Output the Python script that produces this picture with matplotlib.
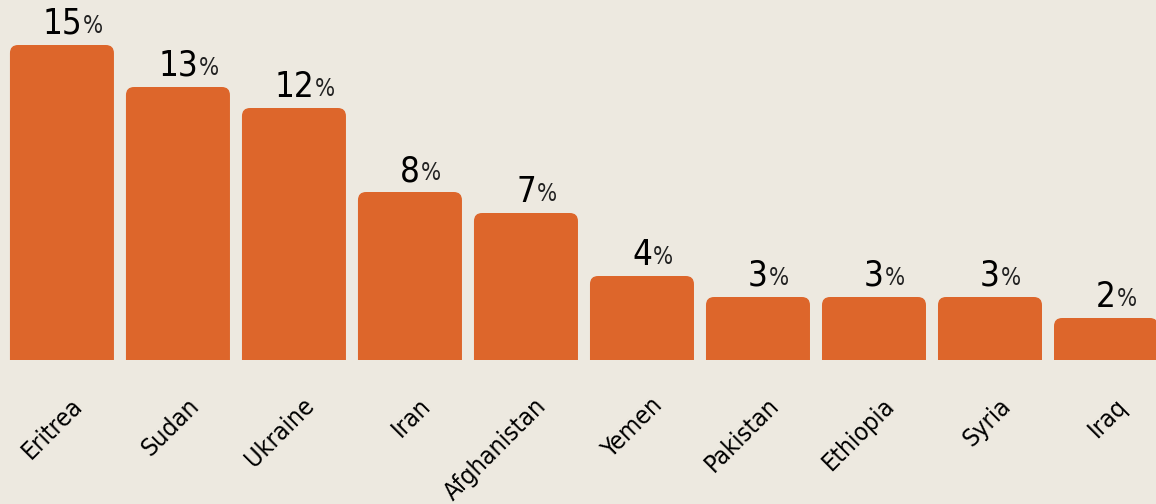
import matplotlib
matplotlib.use('Agg')
import matplotlib.pyplot as plt
import matplotlib.transforms as mtransforms
from matplotlib.patches import FancyBboxPatch
from matplotlib import font_manager


countries = ['Eritrea', 'Sudan', 'Ukraine', 'Iran', 'Afghanistan',
             'Yemen', 'Pakistan', 'Ethiopia', 'Syria', 'Iraq']
shares = [15, 13, 12, 8, 7, 4, 3, 3, 3, 2]

BAR_COLOR = '#DD662B'
BG_COLOR = '#EDE9E0'

names = {f.name for f in font_manager.fontManager.ttflist}
if 'Liberation Sans Narrow' in names:
    FONT = dict(family='Liberation Sans Narrow')
else:
    FONT = dict(family='DejaVu Sans', stretch='condensed')

fig = plt.figure(figsize=(11.56, 5.04), dpi=100, facecolor=BG_COLOR)
ax = fig.add_axes([0, 144 / 504, 1, 360 / 504])
ax.set_facecolor(BG_COLOR)
ax.set_xlim(-0.534, 9.431)
ax.set_ylim(0, 360 / 21)
ax.axis('off')

width = 104 / 116
# pixel aspect: data units of y per data unit of x, for circular corners
aspect = (1 / 21) / (1 / 116)
for i, val in enumerate(shares):
    box = FancyBboxPatch((i - width / 2, -1), width, val + 1,
                         boxstyle='round,pad=0,rounding_size=0.07',
                         mutation_aspect=aspect,
                         facecolor=BAR_COLOR, edgecolor='none')
    ax.add_patch(box)

    num = ax.annotate(str(val), xy=(i, val), xytext=(0, 11), textcoords='offset pixels',
                      ha='center', va='baseline', fontsize=25, color='black', **FONT)
    # bbox bottom of the number sits at its descent, lift the % back to the baseline
    ax.annotate('%', xy=(1, 0), xycoords=num, xytext=(1, 8), textcoords='offset pixels',
                ha='left', va='baseline', fontsize=17, color='#222222', **FONT)

# rotated country labels under the bars
offset = mtransforms.ScaledTranslation(17 / 100, -42 / 100, fig.dpi_scale_trans)
trans = mtransforms.blended_transform_factory(ax.transData, ax.transAxes) + offset
for i, name in enumerate(countries):
    ax.text(i, 0, name, transform=trans, rotation=45, rotation_mode='anchor',
            ha='right', va='center', fontsize=18, color='black', clip_on=False, **FONT)

fig.savefig('out.png', dpi=100, facecolor=BG_COLOR)
